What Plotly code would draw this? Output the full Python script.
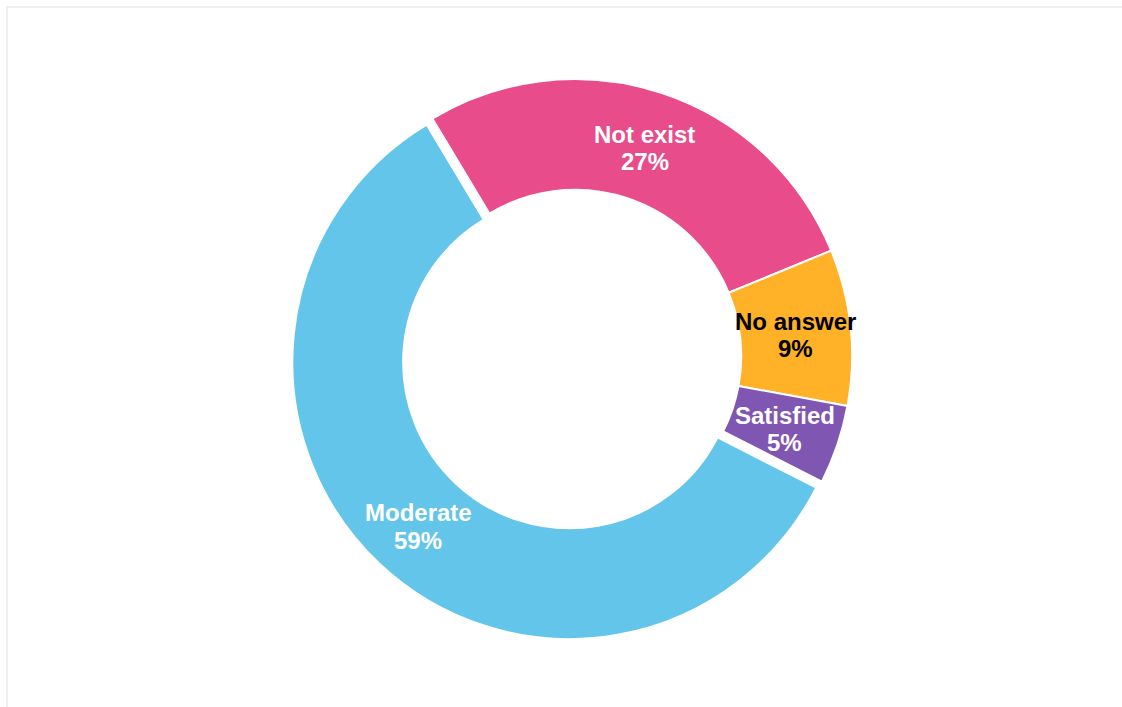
import math
import plotly.graph_objects as go

labels = ["Not exist", "No answer", "Satisfied", "Moderate"]
values = [27.4, 9.1, 4.6, 58.9]
colors = ["#E84C8A", "#FFB128", "#7F56B1", "#63C5EA"]
text_colors = ["#FFFFFF", "#000000", "#FFFFFF", "#FFFFFF"]
pulls = [0, 0, 0, 0.03]

W, H = 1122, 707
HOLE = 0.6
ROTATION = -31
CX, CY = 575.0, 356.0          # pie centre in pixels
R = 277.0                      # outer radius in pixels
max_pull = max(pulls)
half = R * (1 + max_pull)      # half size of the pie domain box
FONT = "Liberation Sans"
FSIZE = 24

fig = go.Figure(go.Pie(
    labels=labels,
    values=values,
    hole=HOLE,
    sort=False,
    direction="clockwise",
    rotation=ROTATION,
    pull=pulls,
    marker=dict(colors=colors, line=dict(color="#FFFFFF", width=2)),
    textinfo="none",
    hoverinfo="label+percent",
    showlegend=False,
    domain=dict(x=[(CX - half) / W, (CX + half) / W],
                y=[1 - (CY + half) / H, 1 - (CY - half) / H]),
))

# labels at the centroid of each ring segment (derived from the data)
total = sum(values)
annotations = []
cum = 0.0
for lab, v, tc, p in zip(labels, values, text_colors, pulls):
    mid = math.radians(ROTATION + 360.0 * (cum + v / 2.0) / total)
    cum += v
    rr = R * (1 + HOLE) / 2.0 + R * p
    px = CX + rr * math.sin(mid)
    py = CY - rr * math.cos(mid)
    pct = f"{round(100 * v / total)}%"
    for txt, shift in ((lab, 11.5), (pct, -16.0)):
        annotations.append(dict(
            x=px / W, y=1 - py / H, xref="paper", yref="paper",
            text=txt, showarrow=False, xanchor="center", yanchor="middle",
            yshift=shift,
            font=dict(family=FONT, size=FSIZE, color=tc, weight="bold"),
        ))

fig.update_layout(
    width=W, height=H,
    margin=dict(l=0, r=0, t=0, b=0),
    paper_bgcolor="#FFFFFF",
    plot_bgcolor="#FFFFFF",
    font=dict(family=FONT),
    annotations=annotations,
    shapes=[dict(type="rect", xref="paper", yref="paper",
                 x0=7 / W, x1=1.01, y0=-0.01, y1=(H - 7) / H,
                 line=dict(color="#EFEFEF", width=2), fillcolor="rgba(0,0,0,0)", layer="below")],
)

fig.write_html("out.html")
